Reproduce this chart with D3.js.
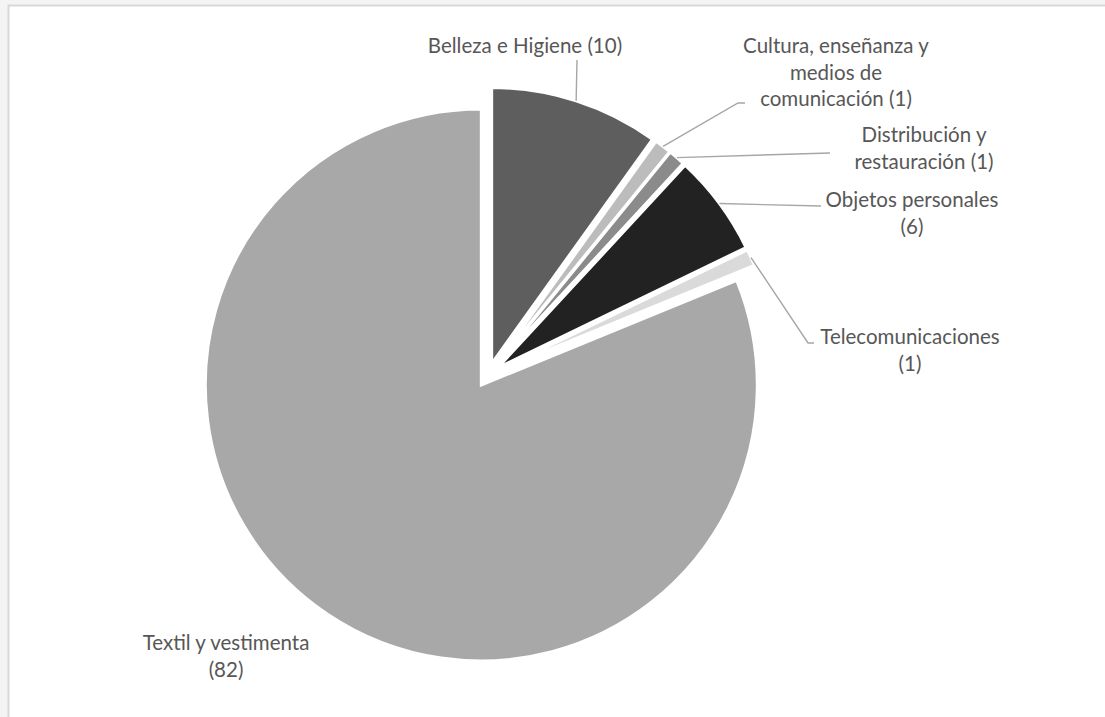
<!DOCTYPE html>
<html lang="es">
<head>
<meta charset="utf-8">
<title>Sectores</title>
<script src="https://cdn.jsdelivr.net/npm/d3@7"></script>
<style>
  html, body { margin: 0; padding: 0; background: #f4f4f4; }
  svg { display: block; }
  .lbl { font-family: Lato, "Open Sans", sans-serif; font-size: 20.5px; fill: #575757; }
</style>
</head>
<body>
<svg id="chart" width="1105" height="717"></svg>
<script>
// Sector names and counts, in drawing order (clockwise from 12 o'clock)
const categories = [
  "Belleza e Higiene",
  "Cultura, enseñanza y medios de comunicación",
  "Distribución y restauración",
  "Objetos personales",
  "Telecomunicaciones",
  "Textil y vestimenta"
];
const values = [10, 1, 1, 6, 1, 82];
const colors = ["#5e5e5e", "#bcbcbc", "#8b8b8b", "#222222", "#dadada", "#a8a8a8"];

// Label text lines; {v} is replaced by the sector's count
const labelLines = [
  ["Belleza e Higiene ({v})"],
  ["Cultura, enseñanza y", "medios de", "comunicación ({v})"],
  ["Distribución y", "restauración ({v})"],
  ["Objetos personales", "({v})"],
  ["Telecomunicaciones", "({v})"],
  ["Textil y vestimenta", "({v})"]
];

const svg = d3.select("#chart");
const W = 1105, H = 717;

// chart area panel
svg.append("rect").attr("x", 8.5).attr("y", 5.5)
  .attr("width", W).attr("height", H)
  .attr("fill", "#ffffff").attr("stroke", "#d8d8d8").attr("stroke-width", 2);

const cx = 488, cy = 375, R = 276, explode = 12, lineH = 26.5;

const pie = d3.pie().sort(null).value(d => d).startAngle(0).endAngle(2 * Math.PI);
const arcs = pie(values);
const arcGen = d3.arc().innerRadius(0).outerRadius(R);

const mid = a => (a.startAngle + a.endAngle) / 2;
const offset = a => [explode * Math.sin(mid(a)), -explode * Math.cos(mid(a))];

const g = svg.append("g").attr("transform", `translate(${cx},${cy})`);

g.selectAll("path.slice").data(arcs).join("path")
  .attr("class", "slice")
  .attr("d", arcGen)
  .attr("transform", a => { const o = offset(a); return `translate(${o[0]},${o[1]})`; })
  .attr("fill", (a, i) => colors[i])
  .attr("stroke", "#ffffff")
  .attr("stroke-width", 3)
  .attr("stroke-linejoin", "miter");

// Label placement (page coordinates of each block's first line centre)
const labelPos = [
  [525, 46], [836, 46], [924, 135], [912, 200], [910, 337], [226, 643]
];
// Leader line bends after leaving the slice edge (null = no leader)
const leaderBends = [
  [[577, 60]],
  [[738, 103], [745, 103]],
  [[830, 153]],
  [[821, 206]],
  [[808, 343], [814, 343]],
  null
];

const edgePoint = a => {
  const o = offset(a), m = mid(a);
  return [cx + o[0] + R * Math.sin(m), cy + o[1] - R * Math.cos(m)];
};

arcs.forEach((a, i) => {
  if (!leaderBends[i]) return;
  const pts = [edgePoint(a), ...leaderBends[i]];
  svg.append("path")
    .attr("d", d3.line()(pts))
    .attr("fill", "none")
    .attr("stroke", "#a6a6a6")
    .attr("stroke-width", 1.4);
});

arcs.forEach((a, i) => {
  const t = svg.append("text").attr("class", "lbl")
    .attr("text-anchor", "middle")
    .attr("x", labelPos[i][0]).attr("y", labelPos[i][1]);
  labelLines[i].forEach((ln, k) => {
    t.append("tspan")
      .attr("x", labelPos[i][0])
      .attr("y", labelPos[i][1] + k * lineH)
      .attr("dy", "0.35em")
      .text(ln.replace("{v}", values[i]));
  });
});
</script>
</body>
</html>
